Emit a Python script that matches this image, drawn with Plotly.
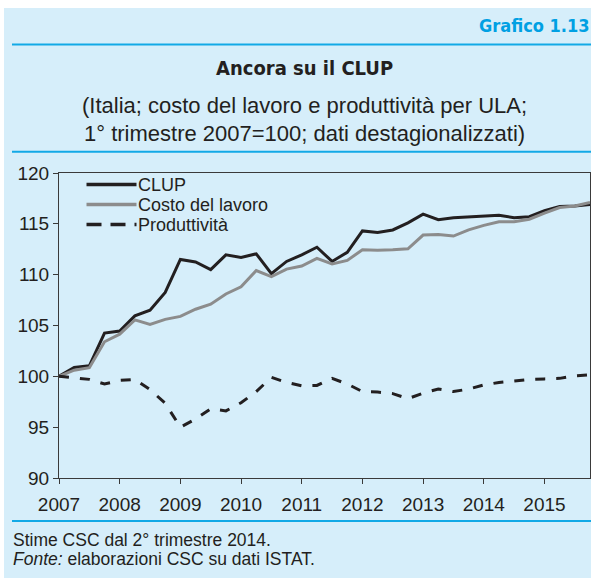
import plotly.graph_objects as go

# ---------------- data ----------------
years = list(range(2007, 2016))
quarters = [1, 2, 3, 4]
x_time = [y + (q - 1) / 4 for y in years for q in quarters]

clup = [100.0, 100.87, 101.03, 104.25,
        104.45, 105.95, 106.5, 108.25,
        111.5, 111.25, 110.5, 111.95,
        111.7, 112.05, 110.1, 111.3,
        111.95, 112.7, 111.3, 112.2,
        114.3, 114.15, 114.4, 115.1,
        115.95, 115.4, 115.6, 115.7,
        115.8, 115.85, 115.6, 115.7,
        116.3, 116.7, 116.75, 116.9]

costo = [100.0, 100.6, 100.85, 103.4,
         104.15, 105.55, 105.1, 105.6,
         105.9, 106.6, 107.1, 108.1,
         108.8, 110.4, 109.8, 110.55,
         110.85, 111.6, 111.05, 111.4,
         112.45, 112.4, 112.45, 112.55,
         113.9, 113.95, 113.8, 114.4,
         114.85, 115.2, 115.2, 115.45,
         116.05, 116.6, 116.75, 117.1]

produttivita = [100.0, 99.85, 99.7, 99.25,
                99.6, 99.7, 98.7, 97.35,
                95.0, 95.8, 96.8, 96.6,
                97.4, 98.5, 99.9, 99.4,
                99.07, 99.1, 99.8, 99.25,
                98.5, 98.45, 98.3, 97.8,
                98.35, 98.75, 98.5, 98.75,
                99.15, 99.4, 99.55, 99.7,
                99.75, 99.8, 100.05, 100.15]

series_names = ["CLUP", "Costo del lavoro", "Produttività"]
x_tickvals = years
x_ticktext = [str(y) for y in years]
y_tickvals = [90, 95, 100, 105, 110, 115, 120]

# ---------------- layout helpers ----------------
W, H = 591, 578
ML, MR, MT, MB = 59, 1, 173, 100
PW, PH = W - ML - MR, H - MT - MB


def X(px):
    return (px - ML) / PW


def Y(py):
    return (H - MB - py) / PH


BG = "#D6EEFA"
CYAN = "#12A9E6"
DARK = "#231F20"
GREY = "#8C8C8C"
REG = "Liberation Sans, Arial, sans-serif"
NARROW = "DejaVu Sans Condensed, Liberation Sans Narrow, Arial Narrow, sans-serif"

colors = [DARK, GREY, DARK]
dashes = ["solid", "solid", "10px,11px"]
values = [clup, costo, produttivita]

fig = go.Figure()
for name, vals, col, dsh in zip(series_names, values, colors, dashes):
    fig.add_trace(go.Scatter(x=x_time, y=vals, mode="lines", name=name,
                             line=dict(color=col, width=3, dash=dsh),
                             showlegend=False, hoverinfo="skip"))

shapes = []
# white margins (top and left)
shapes.append(dict(type="rect", xref="paper", yref="paper",
                   x0=X(-5), x1=X(W + 5), y0=Y(8), y1=Y(-5),
                   fillcolor="white", line=dict(width=0), layer="below"))
shapes.append(dict(type="rect", xref="paper", yref="paper",
                   x0=X(-5), x1=X(4), y0=Y(H + 5), y1=Y(-5),
                   fillcolor="white", line=dict(width=0), layer="below"))
# cyan rules
for py in (44.5, 151.7, 521):
    shapes.append(dict(type="line", xref="paper", yref="paper",
                       x0=X(12), x1=X(W + 5), y0=Y(py), y1=Y(py),
                       line=dict(color=CYAN, width=2)))

# manual legend
leg_rows = [184.5, 204.5, 224.5]
leg_dash = ["solid", "solid", "15px,9px"]
annotations = []
for name, col, dsh, py in zip(series_names, colors, leg_dash, leg_rows):
    shapes.append(dict(type="line", xref="paper", yref="paper",
                       x0=X(86.5), x1=X(136.5), y0=Y(py), y1=Y(py),
                       line=dict(color=col, width=3.5, dash=dsh)))
    annotations.append(dict(text=name, xref="paper", yref="paper",
                            x=X(137), y=Y(py), xanchor="left", yanchor="middle",
                            showarrow=False, borderpad=0,
                            font=dict(family=REG, size=18, color=DARK)))

# header texts
annotations.append(dict(text="<b>Grafico 1.13</b>", xref="paper", yref="paper",
                        x=X(477), y=Y(25.5), xanchor="left", yanchor="middle",
                        showarrow=False,
                        font=dict(family=NARROW, size=18, color="#00A0E3")))
annotations.append(dict(text="<b>Ancora su il CLUP</b>", xref="paper", yref="paper",
                        x=X(304), y=Y(68), xanchor="center", yanchor="middle",
                        showarrow=False,
                        font=dict(family=NARROW, size=20, color=DARK)))
annotations.append(dict(text="(Italia; costo del lavoro e produttività per ULA;",
                        xref="paper", yref="paper",
                        x=X(304), y=Y(105.5), xanchor="center", yanchor="middle",
                        showarrow=False,
                        font=dict(family=REG, size=22, color=DARK)))
annotations.append(dict(text="1° trimestre 2007=100; dati destagionalizzati)",
                        xref="paper", yref="paper",
                        x=X(304), y=Y(133.5), xanchor="center", yanchor="middle",
                        showarrow=False,
                        font=dict(family=REG, size=22, color=DARK)))
# footer texts
annotations.append(dict(text="Stime CSC dal 2° trimestre 2014.",
                        xref="paper", yref="paper",
                        x=X(11), y=Y(539.5), xanchor="left", yanchor="middle",
                        showarrow=False,
                        font=dict(family=REG, size=17.5, color=DARK)))
annotations.append(dict(text="<i>Fonte:</i> elaborazioni CSC su dati ISTAT.",
                        xref="paper", yref="paper",
                        x=X(11), y=Y(558.5), xanchor="left", yanchor="middle",
                        showarrow=False,
                        font=dict(family=REG, size=17.5, color=DARK)))

axis_common = dict(showgrid=False, zeroline=False, showline=True, mirror=True,
                   linecolor="#3A3A3A", linewidth=1, ticks="outside", ticklen=5,
                   tickwidth=1, tickcolor="#3A3A3A",
                   tickfont=dict(family=REG, size=19, color=DARK))

fig.update_layout(
    width=W, height=H,
    margin=dict(l=ML, r=MR, t=MT, b=MB, pad=0),
    paper_bgcolor=BG, plot_bgcolor=BG,
    showlegend=False,
    shapes=shapes, annotations=annotations,
    xaxis=dict(range=[2007, 2015.75], tickvals=x_tickvals, ticktext=x_ticktext,
               ticklabelstandoff=4, **axis_common),
    yaxis=dict(range=[90, 120], tickvals=y_tickvals, **axis_common),
)

fig.write_html("out.html",
               config={"displayModeBar": False, "staticPlot": True},
               post_script="document.body.style.margin='0';"
                           "document.body.style.overflow='hidden';")
